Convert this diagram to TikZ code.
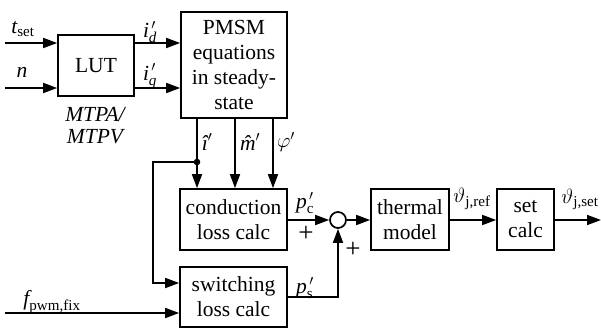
\documentclass[tikz,border=0pt]{standalone}
\usepackage{amsmath}
\usepackage{fontspec}
\setmainfont{Liberation Serif}
\usetikzlibrary{arrows.meta}
\begin{document}
\begin{tikzpicture}[x=1pt,y=-1pt,
  font=\fontsize{21.5}{25}\selectfont,
  box/.style={draw, line width=1.7pt, inner sep=0pt, align=center},
  arr/.style={line width=1.7pt, -{Triangle[length=14pt,width=10pt]}},
  lbl/.style={inner sep=0pt},
  plus/.style={inner sep=0pt, font=\fontsize{27}{27}\selectfont}]
\useasboundingbox (0,0) rectangle (601,328);
% boxes
\node[box, minimum width=76pt, minimum height=61pt] (lut) at (96,65.5) {LUT};
\node[box, minimum width=106pt, minimum height=106pt] (pmsm) at (234,65) {PMSM\\equations\\in steady-\\state};
\node[box, minimum width=107pt, minimum height=61pt] (cond) at (233.5,219.5) {conduction\\loss calc};
\node[box, minimum width=107pt, minimum height=60pt] (sw) at (233.5,297) {switching\\loss calc};
\node[circle, draw, line width=1.7pt, minimum size=16pt, inner sep=0pt] (sum) at (338,220) {};
\node[box, minimum width=78pt, minimum height=61pt] (therm) at (410,219.5) {thermal\\model};
\node[box, minimum width=57pt, minimum height=61pt] (setc) at (525.5,219.5) {set\\calc};
% coordinates
\coordinate (tin) at (5,43);
\coordinate (nin) at (5,88);
\coordinate (fin) at (5,313);
\coordinate (xa) at (197,0);
\coordinate (xb) at (235,0);
\coordinate (xc) at (273,0);
\coordinate (dot) at (197,162);
\coordinate (fbturn) at (153,283);
\coordinate (out) at (601,220);
% connectors
\draw[arr] (tin) -- (tin -| lut.west);
\draw[arr] (nin) -- (nin -| lut.west);
\draw[arr] (lut.east |- tin) -- (pmsm.west |- tin);
\draw[arr] (lut.east |- nin) -- (pmsm.west |- nin);
\draw[arr] (pmsm.south -| xa) -- (cond.north -| xa);
\draw[arr] (pmsm.south -| xb) -- (cond.north -| xb);
\draw[arr] (pmsm.south -| xc) -- (cond.north -| xc);
\fill (dot) circle (3.3pt);
\draw[arr] (dot) -| (fbturn) -- (fbturn -| sw.west);
\draw[arr] (fin) -- (fin -| sw.west);
\draw[arr] (cond.east |- sum) -- (sum.west);
\draw[arr] (sw.east) -| (sum.south);
\draw[arr] (sum.east) -- (therm.west |- sum);
\draw[arr] (therm.east |- sum) -- (setc.west |- sum);
\draw[arr] (setc.east |- sum) -- (out);
% labels
\node[lbl] (ltset) at (23,29) {$\textit{t}_{\text{set}}$};
\node[lbl] (ln) at (22,72) {$\textit{n}$};
\node[lbl] (lid) at (150,32) {$\textit{i}^{\,\prime}_{\textit{d}}$};
\node[lbl] (liq) at (150,76) {$\textit{i}^{\,\prime}_{\textit{q}}$};
\node[lbl, align=center, font=\fontsize{21.5}{22}\selectfont\itshape] (lmtp) at (95,126) {MTPA/\\MTPV};
\node[lbl] (lihat) at (207,142) {$\textit{\^{\i}}^{\prime}$};
\node[lbl] (lmhat) at (250,142) {$\textit{\^{m}}^{\prime}$};
\node[lbl] (lphi) at (286,142) {$\varphi^{\prime}$};
\node[lbl] (lpc) at (305,203) {$\textit{p}^{\,\prime}_{\text{c}}$};
\node[plus] (lplus1) at (306,234) {+};
\node[lbl] (lps) at (305,288) {$\textit{p}^{\,\prime}_{\text{s}}$};
\node[plus] (lplus2) at (353,250) {+};
\node[lbl] (lref) at (472,199) {$\vartheta_{\text{j,ref}}$};
\node[lbl] (lset) at (580,199) {$\vartheta_{\text{j,set}}$};
\node[lbl] (lfpwm) at (52,302) {$\textit{f}_{\text{pwm,fix}}$};
\end{tikzpicture}
\end{document}
